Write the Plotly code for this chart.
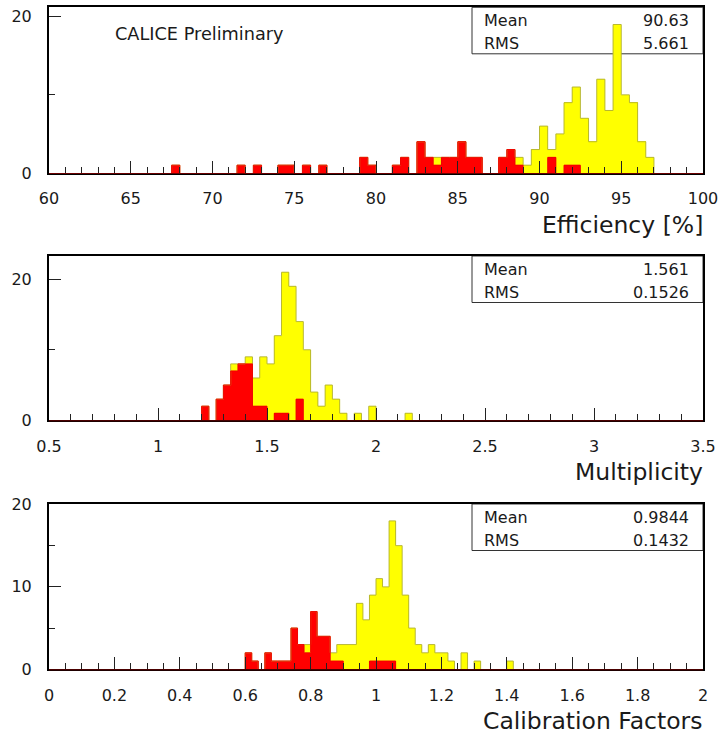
import numpy as np
import plotly.graph_objects as go

W, H = 721, 735

# ---------------- data ----------------
# Efficiency [%] : 80 bins of 0.5 between 60 and 100 (lower bin edges)
eff_range = (60.0, 100.0)
eff_width = 0.5
eff_all_x = [67.5, 71.5, 72.5, 74.0, 74.5, 75.5, 76.5, 79.0, 79.5, 81.0, 81.5, 82.5,
             83.0, 83.5, 84.0, 84.5, 85.0, 85.5, 86.0, 87.5, 88.0, 88.5, 89.0, 89.5,
             90.0, 90.5, 91.0, 91.5, 92.0, 92.5, 93.0, 93.5, 94.0, 94.5, 95.0, 95.5,
             96.0, 96.5]
eff_all_n = [1, 1, 1, 1, 1, 1, 1, 2, 1, 1, 2, 4,
             2, 2, 2, 2, 4, 2, 2, 2, 3, 2, 1, 3,
             6, 3, 5, 9, 11, 7, 4, 12, 8, 19, 10, 9,
             4, 2]
eff_red_x = [67.5, 71.5, 72.5, 74.0, 74.5, 75.5, 76.5, 79.0, 79.5, 81.0, 81.5, 82.5,
             83.0, 83.5, 84.0, 84.5, 85.0, 85.5, 86.0, 87.5, 88.0, 88.5, 90.5, 91.5,
             92.0]
eff_red_n = [1, 1, 1, 1, 1, 1, 1, 2, 1, 1, 2, 4,
             2, 1, 2, 2, 4, 2, 2, 2, 3, 1, 2, 1,
             1]

# Multiplicity : 90 bins between 0.5 and 3.5 (bin numbers, 0-based)
mult_range = (0.5, 3.5)
mult_width = 1.0 / 30.0
mult_all_bin = [21, 23, 24, 25, 26, 27, 28, 29, 30, 31, 32, 33, 34, 35, 36, 37, 38, 39, 40, 42, 44, 49]
mult_all_n = [2, 3, 5, 8, 8, 9, 6, 9, 8, 12, 21, 19, 14, 10, 4, 2, 5, 3, 1, 1, 2, 1]
mult_red_bin = [21, 23, 24, 25, 26, 27, 28, 29, 31, 32, 34]
mult_red_n = [2, 3, 5, 7, 8, 8, 2, 2, 1, 1, 3]

# Calibration factors : 100 bins of 0.02 between 0 and 2 (lower bin edges)
cal_range = (0.0, 2.0)
cal_width = 0.02
cal_all_x = [0.60, 0.62, 0.66, 0.68, 0.70, 0.72, 0.74, 0.76, 0.78, 0.80, 0.82, 0.84,
             0.86, 0.88, 0.90, 0.92, 0.94, 0.96, 0.98, 1.00, 1.02, 1.04, 1.06, 1.08,
             1.10, 1.12, 1.14, 1.16, 1.18, 1.20, 1.22, 1.26, 1.30, 1.40]
cal_all_n = [2, 1, 2, 1, 1, 1, 5, 3, 3, 7, 4, 4,
             2, 3, 3, 3, 8, 6, 9, 11, 10, 18, 15, 9,
             5, 3, 2, 3, 2, 2, 1, 2, 1, 1]
cal_red_x = [0.60, 0.62, 0.66, 0.68, 0.70, 0.72, 0.74, 0.76, 0.78, 0.80, 0.82, 0.84,
             0.86, 0.88, 0.98, 1.00, 1.02, 1.04]
cal_red_n = [2, 1, 2, 1, 1, 1, 5, 3, 2, 7, 4, 4,
             1, 1, 1, 1, 1, 1]

stats = [("90.63", "5.661"), ("1.561", "0.1526"), ("0.9844", "0.1432")]
titles = ["Efficiency [%]", "Multiplicity", "Calibration Factors"]

# ---------------- helpers ----------------
def full_hist(rng, w, xs, ns):
    nb = int(round((rng[1] - rng[0]) / w))
    c = np.zeros(nb)
    idx = np.rint((np.asarray(xs, float) - rng[0]) / w).astype(int)
    c[idx] = ns
    edges = rng[0] + w * np.arange(nb + 1)
    return edges, c

def outline(edges, c):
    """Step outline of the non-empty runs of a histogram."""
    xs, ys = [], []
    nb = len(c)
    i = 0
    while i < nb:
        if c[i] > 0:
            xs.append(edges[i]); ys.append(0)
            while i < nb and c[i] > 0:
                xs += [edges[i], edges[i + 1]]
                ys += [c[i], c[i]]
                i += 1
            xs.append(edges[i]); ys.append(0)
            xs.append(None); ys.append(None)
        else:
            i += 1
    return xs, ys

mult_all_x = [mult_range[0] + k * mult_width for k in mult_all_bin]
mult_red_x = [mult_range[0] + k * mult_width for k in mult_red_bin]

panels = [
    (eff_range, eff_width, eff_all_x, eff_all_n, eff_red_x, eff_red_n),
    (mult_range, mult_width, mult_all_x, mult_all_n, mult_red_x, mult_red_n),
    (cal_range, cal_width, cal_all_x, cal_all_n, cal_red_x, cal_red_n),
]

# pixel geometry (left, right, top, bottom of each frame)
XL, XR = 49, 703
frames = [(7.3, 173.0), (256.0, 420.3), (504.0, 669.3)]
ymax = [21.2, 23.3, 20.05]
xdt = [5, 0.5, 0.2]
xminor = [1, 0.1, 0.05]
ydt = [20, 20, 10]
yminor = [10, 10, 5]

def px(x):
    return x / W

def py(y):
    return 1 - y / H

fig = go.Figure()
FONT = "DejaVu Sans"
TXT = "#1a1a1a"

for i, (rng, w, ax, an, rx, rn) in enumerate(panels):
    xa = "x" if i == 0 else f"x{i+1}"
    ya = "y" if i == 0 else f"y{i+1}"
    for xs, ns, fill, edge in [(ax, an, "#ffff00", "#b8b830"), (rx, rn, "#ff0000", "#f00000")]:
        edges, c = full_hist(rng, w, xs, ns)
        centers = 0.5 * (edges[:-1] + edges[1:])
        mask = c > 0
        fig.add_trace(go.Bar(x=centers[mask], y=c[mask], width=w, marker=dict(color=fill, line=dict(width=0)),
                             xaxis=xa, yaxis=ya, showlegend=False, hoverinfo="skip"))
        ox, oy = outline(edges, c)
        fig.add_trace(go.Scatter(x=ox, y=oy, mode="lines", line=dict(color=edge, width=1),
                                 connectgaps=False, xaxis=xa, yaxis=ya, showlegend=False, hoverinfo="skip"))

    top, bot = frames[i]
    axis_common = dict(showline=True, linewidth=2, linecolor="black", mirror=True, showgrid=False,
                       zeroline=False, ticks="inside", ticklen=12, tickwidth=1, tickcolor="#222",
                       automargin=False,
                       tickfont=dict(family=FONT, size=16, color=TXT))
    xkey = "xaxis" if i == 0 else f"xaxis{i+1}"
    ykey = "yaxis" if i == 0 else f"yaxis{i+1}"
    fig.update_layout(**{
        xkey: dict(axis_common, domain=[px(XL), px(XR)], range=list(rng), anchor=ya,
                   tick0=rng[0], dtick=xdt[i], ticklabelstandoff=10,
                   minor=dict(dtick=xminor[i], ticks="inside", ticklen=6, tickcolor="#222", tickwidth=1)),
        ykey: dict(axis_common, domain=[py(bot), py(top)], range=[0, ymax[i]], anchor=xa,
                   tick0=0, dtick=ydt[i], ticklabelstandoff=12,
                   minor=dict(dtick=yminor[i], ticks="inside", ticklen=6, tickcolor="#222", tickwidth=1)),
    })

    # dark red histogram baseline over the bottom frame
    fig.add_shape(type="line", xref="paper", yref="paper", x0=px(XL), x1=px(XR), y0=py(bot + 0.5), y1=py(bot + 0.5),
                  line=dict(color="#6a0000", width=1), layer="above")

    # stats box
    fig.add_shape(type="rect", xref="paper", yref="paper", x0=px(472), x1=px(XR), y0=py(top + 46.5), y1=py(top),
                  line=dict(color="#333", width=1), fillcolor="rgba(0,0,0,0)", layer="below")
    for j, (lab, val) in enumerate([("Mean", stats[i][0]), ("RMS", stats[i][1])]):
        yy = py(top + 13.5 + 23 * j)
        fig.add_annotation(xref="paper", yref="paper", x=px(482), y=yy, text=lab, showarrow=False,
                           xanchor="left", yanchor="middle", font=dict(family=FONT, size=16, color=TXT))
        fig.add_annotation(xref="paper", yref="paper", x=px(691), y=yy, text=val, showarrow=False,
                           xanchor="right", yanchor="middle", font=dict(family=FONT, size=16, color=TXT))
    # axis title
    fig.add_annotation(xref="paper", yref="paper", x=px(705), y=py(bot + 52), text=titles[i], showarrow=False,
                       xanchor="right", yanchor="middle", font=dict(family=FONT, size=23.5, color=TXT))

fig.add_annotation(xref="paper", yref="paper", x=px(113), y=py(34), text="CALICE Preliminary", showarrow=False,
                   xanchor="left", yanchor="middle", font=dict(family=FONT, size=17.7, color=TXT))

fig.update_layout(width=W, height=H, margin=dict(l=0, r=0, t=0, b=0), barmode="overlay", bargap=0,
                  plot_bgcolor="white", paper_bgcolor="white")

fig.write_html("out.html")
